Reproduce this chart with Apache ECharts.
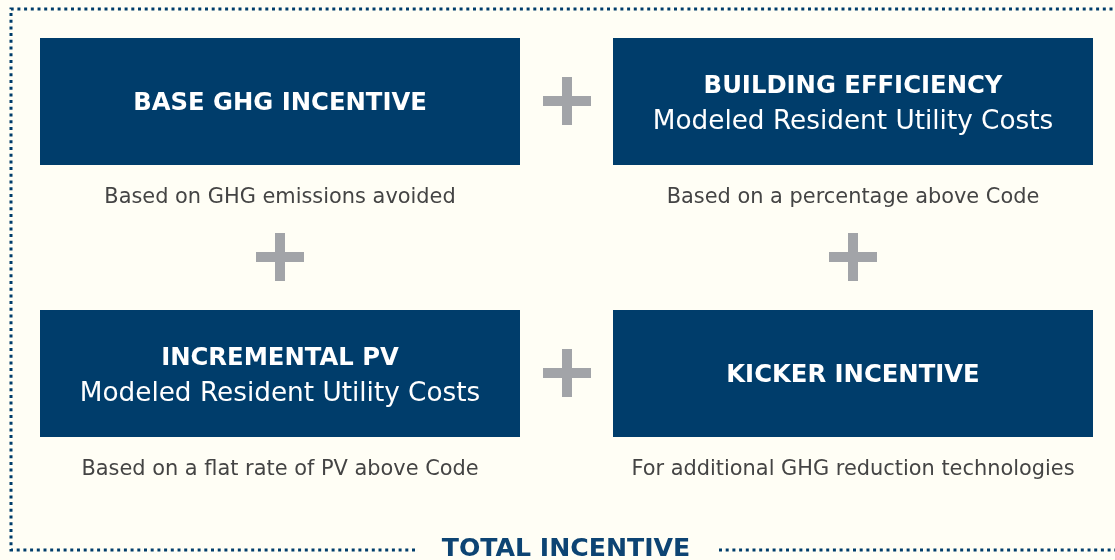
<!DOCTYPE html>
<html>
<head>
<meta charset="utf-8">
<script src="https://cdn.jsdelivr.net/npm/echarts@6/dist/echarts.min.js"></script>
<style>
  html, body { margin: 0; padding: 0; background: #fffef5; }
  #main { width: 1115px; height: 560px; }
</style>
</head>
<body>
<div id="main"></div>
<script>
// texte du schéma
var boxTitles = ['BASE GHG INCENTIVE', 'BUILDING EFFICIENCY', 'INCREMENTAL PV', 'KICKER INCENTIVE'];
var boxSubtitles = ['', 'Modeled Resident Utility Costs', 'Modeled Resident Utility Costs', ''];
var captions = [
    'Based on GHG emissions avoided',
    'Based on a percentage above Code',
    'Based on a flat rate of PV above Code',
    'For additional GHG reduction technologies'
];
var totalLabel = 'TOTAL INCENTIVE';

var FONT = '"DejaVu Sans", Verdana, sans-serif';
var BLUE = '#003d6b';
var GREY = '#a2a4a8';

function buildGraphic()
{
    var els = [];
    var colX = [40, 613], rowY = [38, 310];
    var boxW = 480, boxH = 127;

    for (var i = 0; i < boxTitles.length; i++) {
        var x = colX[i % 2], y = rowY[Math.floor(i / 2)];
        var cx = x + boxW / 2, cy = y + boxH / 2;
        els.push({ type: 'rect', shape: { x: x, y: y, width: boxW, height: boxH }, style: { fill: BLUE } });
        var two = boxSubtitles[i] !== '';
        els.push({
            type: 'text',
            style: { text: boxTitles[i], x: cx, y: two ? cy - 15 : cy + 2, align: 'center', verticalAlign: 'middle',
                     fill: '#fff', fontFamily: FONT, fontWeight: 'bold', fontSize: 24.3 }
        });
        if (two) {
            els.push({
                type: 'text',
                style: { text: boxSubtitles[i], x: cx, y: cy + 21, align: 'center', verticalAlign: 'middle',
                         fill: '#fff', fontFamily: FONT, fontSize: 26.3 }
            });
        }
        els.push({
            type: 'text',
            style: { text: captions[i], x: cx, y: y + boxH + 33, align: 'center', verticalAlign: 'middle',
                     fill: '#444', fontFamily: FONT, fontSize: 20.9 }
        });
    }

    // signes plus
    var plus = [[567, 101], [280, 257], [853, 257], [567, 373]];
    for (var j = 0; j < plus.length; j++) {
        var px = plus[j][0], py = plus[j][1];
        els.push({ type: 'rect', shape: { x: px - 24, y: py - 5, width: 48, height: 10 }, style: { fill: GREY } });
        els.push({ type: 'rect', shape: { x: px - 5, y: py - 24, width: 10, height: 48 }, style: { fill: GREY } });
    }

    // cadre pointillé
    var dot = { stroke: BLUE, lineWidth: 3, lineDash: [3, 3.7], fill: null };
    els.push({ type: 'polyline', shape: { points: [[415, 550], [11, 550], [11, 9], [1120, 9]] }, style: dot });
    els.push({ type: 'polyline', shape: { points: [[719, 550], [1120, 550]] }, style: dot });
    els.push({
        type: 'text',
        style: { text: totalLabel, x: 566, y: 549, align: 'center', verticalAlign: 'middle',
                 fill: '#0d4473', fontFamily: FONT, fontWeight: 'bold', fontSize: 25.2 }
    });
    return els;
}

var myChart = echarts.init(document.getElementById('main'));
myChart.setOption({
    backgroundColor: '#fffef5',
    graphic: { elements: buildGraphic() }
});
</script>
</body>
</html>
